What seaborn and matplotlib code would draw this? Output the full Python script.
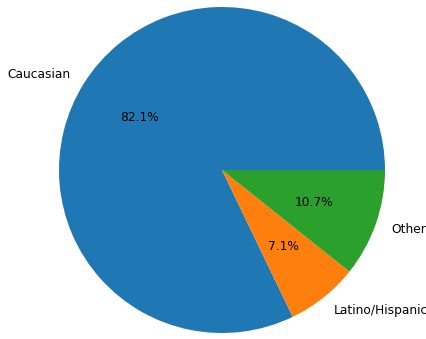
import matplotlib
matplotlib.use("Agg")
import matplotlib.pyplot as plt
import seaborn as sns

# counts per group (23/28, 2/28, 3/28)
groups = ["Caucasian", "Latino/Hispanic", "Other"]
counts = [23, 2, 3]

colors = sns.color_palette("tab10")[:3]

fig = plt.figure(figsize=(4.27, 3.39), dpi=100)
# pie centre ~ (222, 169) px from bottom-left, radius ~163 px
r_px = 163
lim = 1.2
half = r_px * lim
ax = fig.add_axes([(222 - half) / 427, (169 - half) / 339, 2 * half / 427, 2 * half / 339])
ax.pie(counts, labels=groups, autopct="%1.1f%%", colors=colors,
       textprops={"fontsize": 8.8})
ax.set_xlim(-lim, lim)
ax.set_ylim(-lim, lim)
ax.set_aspect("equal")

fig.savefig("out.png", dpi=100)
